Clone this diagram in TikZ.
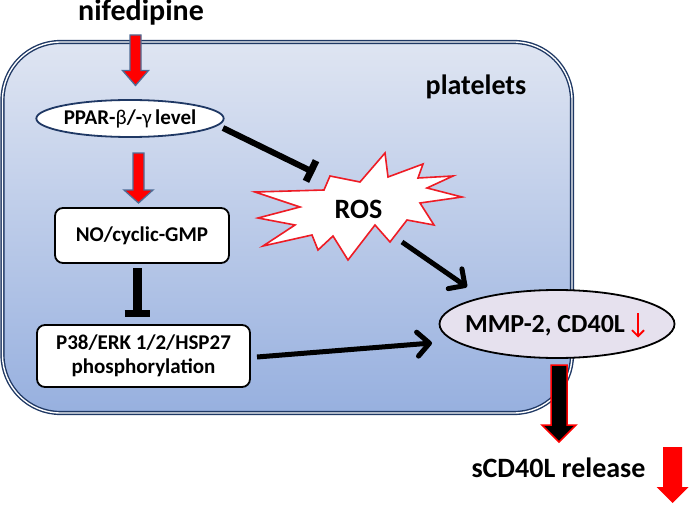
\documentclass[tikz,border=0pt]{standalone}
\usepackage{fontspec}
\setmainfont{Carlito}
\usetikzlibrary{arrows.meta,shapes.geometric,calc}
\definecolor{navy}{HTML}{1F3864}
\definecolor{slate}{HTML}{4F6D96}
\definecolor{bgtop}{HTML}{DFE5F2}
\definecolor{bgbot}{HTML}{97B0DF}
\definecolor{lav}{HTML}{E6E1EE}
\definecolor{rosred}{HTML}{EE1C25}
\tikzset{
  txt/.style={font=\bfseries\fontsize{21}{25}\selectfont},
  boxnode/.style={txt, draw=black, line width=1.8pt, fill=white, rounded corners=8pt, inner sep=0pt, align=center},
  blockdown/.style args={#1/#2/#3}{to path={let \p1=(\tikztostart), \p2=(\tikztotarget) in
     (\x1-#1,\y1) -- (\x1+#1,\y1) -- (\x1+#1,\y2+#3) -- (\x1+#2,\y2+#3) -- (\x2,\y2)
     -- (\x1-#2,\y2+#3) -- (\x1-#1,\y2+#3) -- cycle}},
  actarrow/.style={line width=5pt, -{Straight Barb[length=12pt,width=24pt,round]}},
  inhline/.style={line width=#1},
}
\begin{document}
\begin{tikzpicture}[x=1pt,y=-1pt]
\useasboundingbox (0,0) rectangle (692,505);
% platelet cell
\path[draw=navy, line width=1.4pt, double=white, double distance=1.4pt, rounded corners=58pt,
      top color=bgtop, bottom color=bgbot] (2.5,42) rectangle (572,413);
\node[font=\bfseries\fontsize{28}{32}\selectfont, anchor=base] (plt) at (476,95) {platelets};

% nodes
\node[font=\bfseries\fontsize{30}{34}\selectfont, anchor=base] (nif) at (141,21) {nifedipine};
\node[ellipse, txt, draw=navy, line width=1.8pt, fill=white, minimum width=186pt, minimum height=37pt, inner sep=0pt]
   (ppar) at (130,118.5) {PPAR-{\mdseries β}/-{\mdseries γ}\,level};
\node[boxnode, minimum width=174pt, minimum height=55pt] (no) at (142,235.5) {NO/cyclic-GMP};
\node[boxnode, minimum width=213pt, minimum height=62pt] (p38) at (143.5,356)
   {P38/ERK 1/2/HSP27\\[-1pt]phosphorylation};

% ROS starburst
\draw[rosred, line width=1.6pt, fill=white, line join=miter]
  (385,153) -- (388,177) -- (423,164) -- (418,178) -- (453,176) -- (427,188) -- (462,197)
  -- (420,203) -- (434,225) -- (407,220) -- (390,242) -- (375,225) -- (348,260) -- (333,236)
  -- (318,250) -- (312,235) -- (263,246) -- (295,225) -- (258,218) -- (300,207) -- (255,192)
  -- (324,190) -- (330,176) -- (360,182) -- cycle;
\node[font=\bfseries\fontsize{28}{32}\selectfont] (ros) at (358.5,209) {ROS};

% MMP ellipse
\node[ellipse, draw=black, line width=1.8pt, fill=lav, minimum width=235pt, minimum height=68pt, inner sep=0pt]
   (mmp) at (557,324) {};
\node[font=\bfseries\fontsize{26}{30}\selectfont, anchor=base] (mmptxt) at (545,332) {MMP-2, CD40L};
\coordinate (dn1) at (638,313);
\coordinate (dn2) at (638,337.5);
\draw[red, line width=1.8pt, -{Straight Barb[length=6pt,width=12pt]}] (dn1) -- (dn2);

\node[font=\bfseries\fontsize{28}{32}\selectfont, anchor=base] (rel) at (558.5,477) {sCD40L release};

% block arrows
\coordinate (a1s) at (135.5,35);   \coordinate (a1e) at (135.5,85.5);
\coordinate (a2s) at (138.5,153);  \coordinate (a2e) at (138.5,203);
\coordinate (a3s) at (559,365);    \coordinate (a3e) at (559,442);
\coordinate (a4s) at (672.5,447);  \coordinate (a4e) at (672.5,503);
\draw[fill=red, draw=slate, line width=1.3pt, line join=miter, blockdown=5.5pt/13pt/15pt] (a1s) to (a1e);
\draw[fill=red, draw=slate, line width=1.3pt, line join=miter, blockdown=5.5pt/14.5pt/13pt] (a2s) to (a2e);
\draw[fill=black, draw=red, line width=1.5pt, line join=miter, blockdown=8pt/17pt/17pt] (a3s) to (a3e);
\fill[red, blockdown=9.5pt/16pt/16pt] (a4s) to (a4e);

% inhibition NO -> P38
\coordinate (i1s) at (137,268);
\coordinate (i1e) at (137,313.5);
\draw[inhline=9pt] (i1s) -- (i1e);
\draw[inhline=7pt] ($(i1e)+(-12.5,0)$) -- ($(i1e)+(12.5,0)$);

% inhibition PPAR -> ROS
\coordinate (i2s) at (223,128);
\coordinate (i2e) at (311,171);
\draw[inhline=6pt] (i2s) -- (i2e);
\draw[inhline=7pt] ($(i2e)!11.5pt!90:(i2s)$) -- ($(i2e)!11.5pt!-90:(i2s)$);

% activation arrows
\coordinate (r1s) at (402,242);
\coordinate (r1e) at (467,287);
\draw[actarrow] (r1s) -- (r1e);
\coordinate (p1s) at (257,357);
\coordinate (p1e) at (432,343);
\draw[actarrow] (p1s) -- (p1e);
\end{tikzpicture}
\end{document}
